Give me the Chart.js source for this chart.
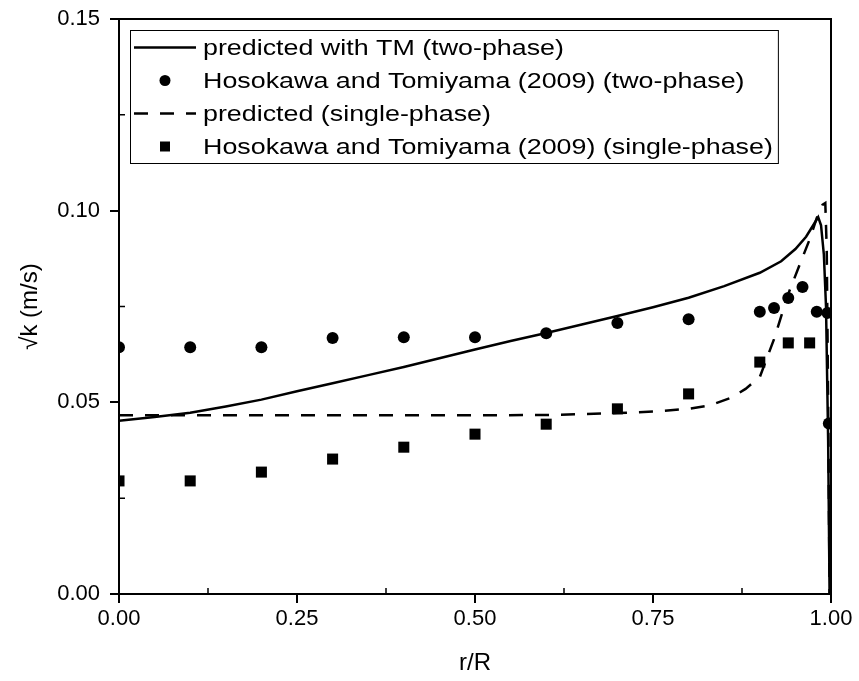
<!DOCTYPE html>
<html lang="en">
<head>
  <meta charset="UTF-8">
  <title>sqrt(k) profile</title>
  <script src="https://cdn.jsdelivr.net/npm/chart.js"></script>
  <style>
    html, body { margin: 0; padding: 0; background: #fff; }
    #wrap { width: 859px; height: 681px; position: relative; }
  </style>
</head>
<body>
  <div id="wrap"><canvas id="kChart"></canvas></div>
  <script>
    // predicted with TM (two-phase)
    const solidR = [0, 0.05, 0.1, 0.15, 0.2, 0.25, 0.3, 0.35, 0.4, 0.45, 0.5, 0.55, 0.6, 0.65, 0.7, 0.75, 0.8, 0.85, 0.9, 0.93, 0.95, 0.965, 0.975, 0.982, 0.986, 0.99, 0.993, 0.996, 0.998];
    const solidK = [0.0452, 0.0462, 0.0473, 0.0489, 0.0507, 0.0529, 0.0550, 0.0571, 0.0592, 0.0615, 0.0638, 0.0660, 0.0681, 0.0703, 0.0725, 0.0748, 0.0773, 0.0803, 0.0838, 0.0868, 0.0900, 0.0932, 0.0962, 0.0983, 0.0962, 0.0885, 0.0750, 0.0400, 0.0];

    // predicted (single-phase)
    const dashR = [0, 0.1, 0.2, 0.3, 0.4, 0.5, 0.6, 0.65, 0.7, 0.75, 0.8, 0.83, 0.86, 0.88, 0.9, 0.92, 0.94, 0.96, 0.97, 0.98, 0.988, 0.992, 0.994, 0.996, 0.998];
    const dashK = [0.0466, 0.0466, 0.0466, 0.0466, 0.0466, 0.0466, 0.0467, 0.0469, 0.0472, 0.0476, 0.0483, 0.0492, 0.0512, 0.0535, 0.0566, 0.0665, 0.0783, 0.0878, 0.0925, 0.0981, 0.1015, 0.1020, 0.0900, 0.0500, 0.0];

    // Hosokawa and Tomiyama (2009) (two-phase)
    const twoPhaseR = [0, 0.1, 0.2, 0.3, 0.4, 0.5, 0.6, 0.7, 0.8, 0.9, 0.92, 0.94, 0.96, 0.98, 0.995, 0.997];
    const twoPhaseK = [0.0644, 0.0644, 0.0644, 0.0668, 0.0670, 0.0670, 0.0680, 0.0707, 0.0717, 0.0736, 0.0746, 0.0772, 0.0801, 0.0736, 0.0733, 0.0445];

    // Hosokawa and Tomiyama (2009) (single-phase)
    const singleR = [0, 0.1, 0.2, 0.3, 0.4, 0.5, 0.6, 0.7, 0.8, 0.9, 0.94, 0.97];
    const singleK = [0.0295, 0.0295, 0.0318, 0.0352, 0.0383, 0.0417, 0.0443, 0.0483, 0.0522, 0.0605, 0.0655, 0.0655];

    const xTicks = [0, 0.25, 0.5, 0.75, 1.0];
    const yTicks = [0, 0.05, 0.10, 0.15];
    const xMinor = [0.125, 0.375, 0.625, 0.875];
    const yMinor = [0.025, 0.075, 0.125];

    function toPoints(xs, ys) {
      return xs.map((x, i) => ({ x: x, y: ys[i] }));
    }

    const FONT = 'Liberation Sans, Arial, sans-serif';
    const LEGEND_STRETCH = 1.22; // the original legend text is a bit wide

    const framePlugin = {
      id: 'frame',
      afterDraw(chart) {
        const ctx = chart.ctx;
        const a = chart.chartArea;
        const xs = chart.scales.x;
        const ys = chart.scales.y;
        ctx.save();
        ctx.strokeStyle = '#000';
        ctx.lineWidth = 2;
        // top and right frame
        ctx.beginPath();
        ctx.moveTo(a.left, a.top);
        ctx.lineTo(a.right, a.top);
        ctx.lineTo(a.right, a.bottom);
        ctx.stroke();
        // minor ticks, inside
        ctx.lineWidth = 1.5;
        ctx.beginPath();
        xMinor.forEach(v => {
          const px = xs.getPixelForValue(v);
          ctx.moveTo(px, a.bottom);
          ctx.lineTo(px, a.bottom - 6);
        });
        yMinor.forEach(v => {
          const py = ys.getPixelForValue(v);
          ctx.moveTo(a.left, py);
          ctx.lineTo(a.left + 6, py);
        });
        ctx.stroke();

        // legend
        const lx = a.left + 11;
        const ly = a.top + 11;
        const rowH = 33;
        const items = chart.data.datasets;
        ctx.font = '22px ' + FONT;
        let maxW = 0;
        items.forEach(d => { maxW = Math.max(maxW, ctx.measureText(d.label).width * LEGEND_STRETCH); });
        const textX = lx + 73;
        const boxW = textX - lx + maxW + 5;
        const boxH = rowH * items.length + 1;
        ctx.fillStyle = '#fff';
        ctx.fillRect(lx, ly, boxW, boxH);
        ctx.lineWidth = 1;
        ctx.strokeStyle = '#000';
        ctx.strokeRect(lx + 0.5, ly + 0.5, boxW, boxH);
        items.forEach((d, i) => {
          const cy = ly + 17.5 + i * rowH;
          if (d.showLine !== false) {
            ctx.save();
            ctx.lineWidth = 2.5;
            ctx.setLineDash(d.borderDash || []);
            ctx.beginPath();
            ctx.moveTo(lx + 4, cy);
            ctx.lineTo(lx + 66, cy);
            ctx.stroke();
            ctx.restore();
          } else {
            ctx.fillStyle = '#000';
            ctx.beginPath();
            if (d.pointStyle === 'rect') {
              ctx.rect(lx + 30, cy - 5, 10, 10);
            } else {
              ctx.arc(lx + 35, cy, 5.5, 0, Math.PI * 2);
            }
            ctx.fill();
          }
          ctx.save();
          ctx.fillStyle = '#000';
          ctx.textBaseline = 'middle';
          ctx.textAlign = 'left';
          ctx.translate(textX, cy + 1);
          ctx.scale(LEGEND_STRETCH, 1);
          ctx.fillText(d.label, 0, 0);
          ctx.restore();
        });
        ctx.restore();
      }
    };

    const ctx = document.getElementById('kChart').getContext('2d');
    new Chart(ctx, {
      type: 'scatter',
      data: {
        datasets: [
          {
            label: 'predicted with TM (two-phase)',
            data: toPoints(solidR, solidK),
            showLine: true,
            borderColor: '#000',
            borderWidth: 2.5,
            pointRadius: 0,
            tension: 0,
            clip: 0
          },
          {
            label: 'Hosokawa and Tomiyama (2009) (two-phase)',
            data: toPoints(twoPhaseR, twoPhaseK),
            showLine: false,
            pointStyle: 'circle',
            pointRadius: 6,
            backgroundColor: '#000',
            borderColor: '#000',
            borderWidth: 0,
            clip: 0
          },
          {
            label: 'predicted (single-phase)',
            data: toPoints(dashR, dashK),
            showLine: true,
            borderColor: '#000',
            borderWidth: 2.5,
            borderDash: [14, 12],
            pointRadius: 0,
            tension: 0,
            clip: 0
          },
          {
            label: 'Hosokawa and Tomiyama (2009) (single-phase)',
            data: toPoints(singleR, singleK),
            showLine: false,
            pointStyle: 'rect',
            pointRadius: 7.8,
            backgroundColor: '#000',
            borderColor: '#000',
            borderWidth: 0,
            clip: 0
          }
        ]
      },
      options: {
        responsive: true,
        maintainAspectRatio: false,
        animation: false,
        layout: { padding: { left: 0, top: 19, right: 28, bottom: 0 } },
        plugins: {
          legend: { display: false },
          tooltip: { enabled: false }
        },
        scales: {
          x: {
            type: 'linear',
            min: 0,
            max: 1,
            afterFit: s => { s.height = 87; s.paddingLeft = 0; s.paddingRight = 0; },
            afterBuildTicks: s => { s.ticks = xTicks.map(v => ({ value: v })); },
            ticks: {
              callback: v => v.toFixed(2),
              font: { family: FONT, size: 22 },
              color: '#000',
              padding: 3,
              maxRotation: 0
            },
            grid: { drawOnChartArea: false, drawTicks: true, tickLength: 9, color: '#000', lineWidth: 2 },
            border: { display: true, color: '#000', width: 2 },
            title: {
              display: true,
              text: 'r/R',
              font: { family: FONT, size: 24 },
              color: '#000',
              padding: { top: 0, bottom: 3 }
            }
          },
          y: {
            type: 'linear',
            min: 0,
            max: 0.15,
            afterFit: s => { s.width = 119; s.paddingTop = 0; s.paddingBottom = 0; },
            afterBuildTicks: s => { s.ticks = yTicks.map(v => ({ value: v })); },
            ticks: {
              callback: v => v.toFixed(2),
              font: { family: FONT, size: 22 },
              color: '#000',
              padding: 10
            },
            grid: { drawOnChartArea: false, drawTicks: true, tickLength: 9, color: '#000', lineWidth: 2 },
            border: { display: true, color: '#000', width: 2 },
            title: {
              display: true,
              text: '√k (m/s)',
              font: { family: FONT, size: 24 },
              color: '#000',
              padding: { top: 16, bottom: 0 }
            }
          }
        }
      },
      plugins: [framePlugin]
    });
  </script>
</body>
</html>
